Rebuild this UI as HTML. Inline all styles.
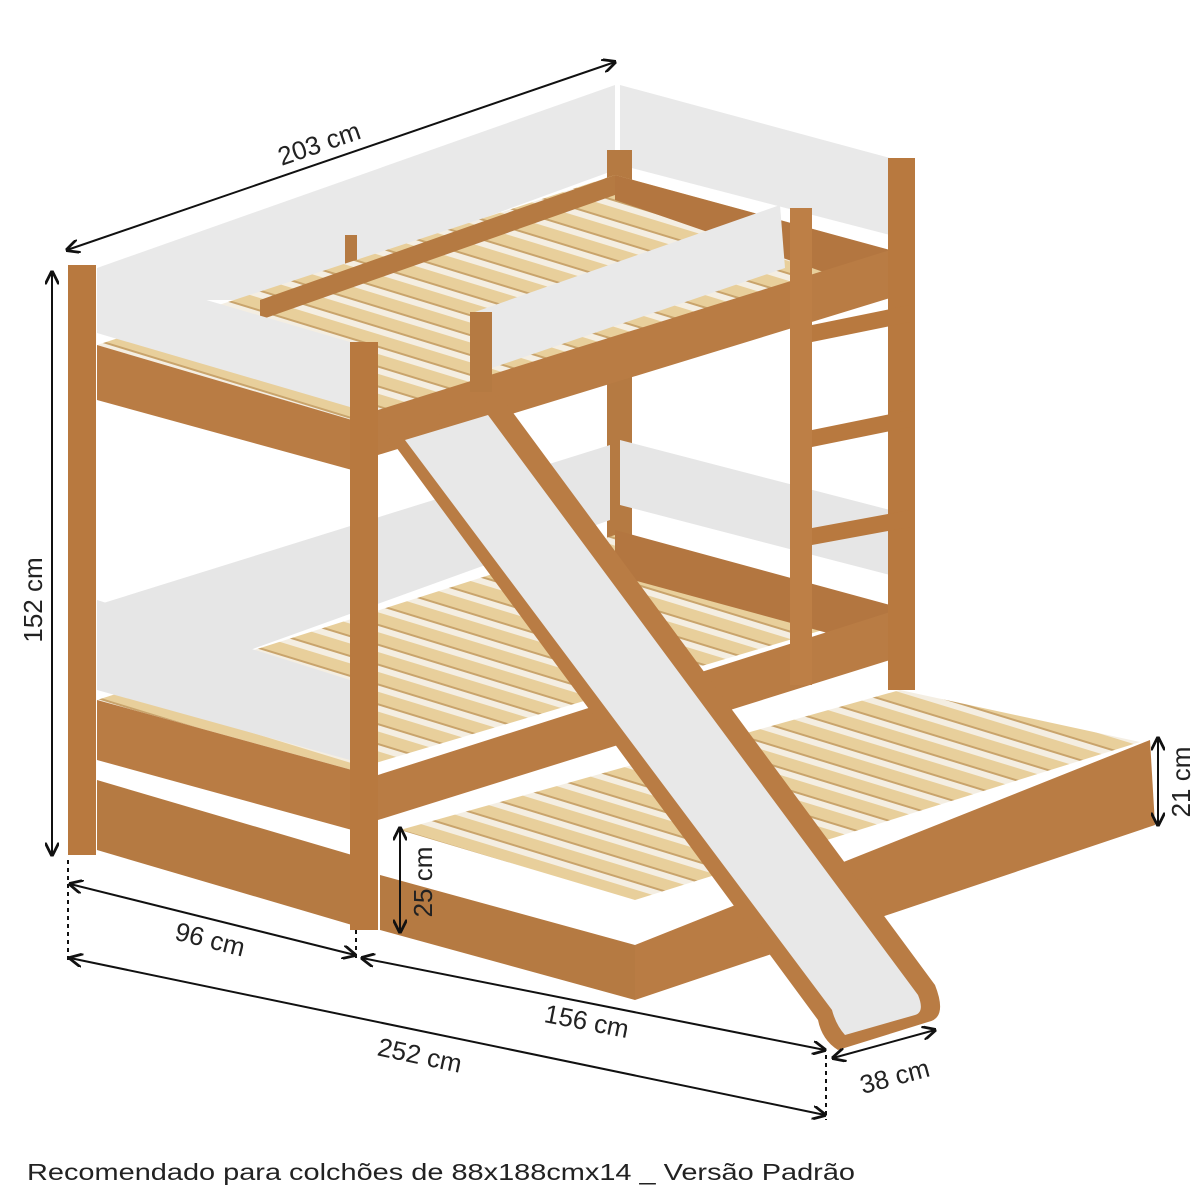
<!DOCTYPE html>
<html><head><meta charset="utf-8"><style>
html,body{margin:0;padding:0;background:#fff}
svg{display:block}
text{font-family:"Liberation Sans",sans-serif;fill:#222}
</style></head><body>
<svg width="1199" height="1199" viewBox="0 0 1199 1199" xmlns="http://www.w3.org/2000/svg">
<defs>
<pattern id="sl" width="40" height="19" patternUnits="userSpaceOnUse" patternTransform="rotate(17)">
<rect width="40" height="19" fill="#f4eee2"/>
<rect y="0" width="40" height="12" fill="#e8cf9b"/>
<rect y="11" width="40" height="2" fill="#c9a46c"/>
</pattern>
<marker id="ar" viewBox="0 0 10 10" refX="9" refY="5" markerWidth="7" markerHeight="7" orient="auto-start-reverse"><path d="M0,0 L10,5 L0,10" fill="none" stroke="#111" stroke-width="2"/></marker>
</defs>
<g stroke="none">
<polygon points="97,268 615,85 615,170 260,300 97,300" fill="#e9e9e9"/>
<polygon points="620,85 890,158 890,235 620,165" fill="#e9e9e9"/>
<rect x="345" y="235" width="12" height="60" fill="#b57a42"/>
<rect x="607" y="150" width="25" height="395" fill="#b57a42"/>
<polygon points="97,345 352,420 890,250 615,175" fill="url(#sl)"/>
<polygon points="260,300 615,175 615,195 260,320" fill="#b57a42"/>
<polygon points="615,175 890,250 890,295 615,200" fill="#b37640"/>
<polygon points="97,605 610,445 610,520 250,650 97,650" fill="#e6e6e6"/>
<polygon points="620,440 890,510 890,575 620,505" fill="#e6e6e6"/>
<polygon points="97,700 352,770 890,610 615,535" fill="url(#sl)"/>
<polygon points="615,530 890,605 890,650 615,575" fill="#b37640"/>
<polygon points="97,345 352,420 352,470 97,400" fill="#b97c44"/>
<polygon points="97,268 350,342 350,407 97,333" fill="#e9e9e9"/>
<polygon points="378,410 890,250 890,298 378,455" fill="#b97c44"/>
<polygon points="475,312 780,205 785,268 480,372" fill="#e9e9e9"/>
<rect x="470" y="312" width="22" height="80" fill="#b57a42"/>
<polygon points="97,600 350,680 350,760 97,690" fill="#e6e6e6"/>
<polygon points="97,700 352,770 352,830 97,760" fill="#b97c44"/>
<polygon points="97,780 352,855 352,925 97,850" fill="#b57a42"/>
<polygon points="378,775 890,612 890,660 378,820" fill="#b97c44"/>
<rect x="68" y="265" width="28" height="590" fill="#b8793f"/>
<rect x="350" y="342" width="28" height="588" fill="#b8793f"/>
<rect x="888" y="158" width="27" height="532" fill="#b8793f"/>
<rect x="790" y="208" width="22" height="477" fill="#bd7f46"/>
<polygon points="812,325 910,305 910,322 812,342" fill="#b8793f"/>
<polygon points="812,430 910,410 910,427 812,447" fill="#b8793f"/>
<polygon points="812,528 910,510 910,527 812,545" fill="#b8793f"/>
<polygon points="400,830 635,900 1140,742 900,690" fill="url(#sl)"/>
<polygon points="380,875 635,945 635,1000 380,930" fill="#b57a42"/>
<polygon points="635,945 1150,740 1155,825 635,1000" fill="#b97c44"/>
<path d="M385,432 L500,395 L935,985 Q948,1018 928,1022 L838,1050 Q822,1040 818,1020 Z" fill="#b97c44"/>
<path d="M405,440 L488,415 L918,995 Q925,1012 915,1015 L845,1035 Q836,1025 832,1010 Z" fill="#e8e8e8"/>
</g>
<g stroke="#111" stroke-width="2" fill="none">
<line x1="67" y1="250" x2="615" y2="62" marker-start="url(#ar)" marker-end="url(#ar)"/>
<line x1="52" y1="272" x2="52" y2="855" marker-start="url(#ar)" marker-end="url(#ar)"/>
<line x1="70" y1="884" x2="355" y2="955" marker-start="url(#ar)" marker-end="url(#ar)"/>
<line x1="70" y1="958" x2="825" y2="1115" marker-start="url(#ar)" marker-end="url(#ar)"/>
<line x1="362" y1="958" x2="825" y2="1050" marker-start="url(#ar)" marker-end="url(#ar)"/>
<line x1="833" y1="1058" x2="935" y2="1030" marker-start="url(#ar)" marker-end="url(#ar)"/>
<line x1="1158" y1="738" x2="1158" y2="825" marker-start="url(#ar)" marker-end="url(#ar)"/>
<line x1="400" y1="828" x2="400" y2="932" marker-start="url(#ar)" marker-end="url(#ar)"/>
</g>
<g stroke="#111" stroke-width="2" stroke-dasharray="4,4">
<line x1="68" y1="860" x2="68" y2="962"/>
<line x1="356" y1="930" x2="356" y2="960"/>
<line x1="826" y1="1055" x2="826" y2="1120"/>
</g>
<g font-size="26">
<text x="322" y="152" text-anchor="middle" transform="rotate(-19 322 152)">203 cm</text>
<text x="42" y="600" text-anchor="middle" transform="rotate(-90 42 600)">152 cm</text>
<text x="208" y="948" text-anchor="middle" transform="rotate(14 208 948)">96 cm</text>
<text x="418" y="1064" text-anchor="middle" transform="rotate(12 418 1064)">252 cm</text>
<text x="585" y="1030" text-anchor="middle" transform="rotate(11 585 1030)">156 cm</text>
<text x="897" y="1085" text-anchor="middle" transform="rotate(-15 897 1085)">38 cm</text>
<text x="1190" y="782" text-anchor="middle" transform="rotate(-90 1190 782)">21 cm</text>
<text x="432" y="882" text-anchor="middle" transform="rotate(-90 432 882)">25 cm</text>
</g>
<text x="27" y="1180" font-size="23" fill="#333" textLength="828" lengthAdjust="spacingAndGlyphs">Recomendado para colchões de 88x188cmx14 _ Versão Padrão</text>
</svg>
</body></html>
